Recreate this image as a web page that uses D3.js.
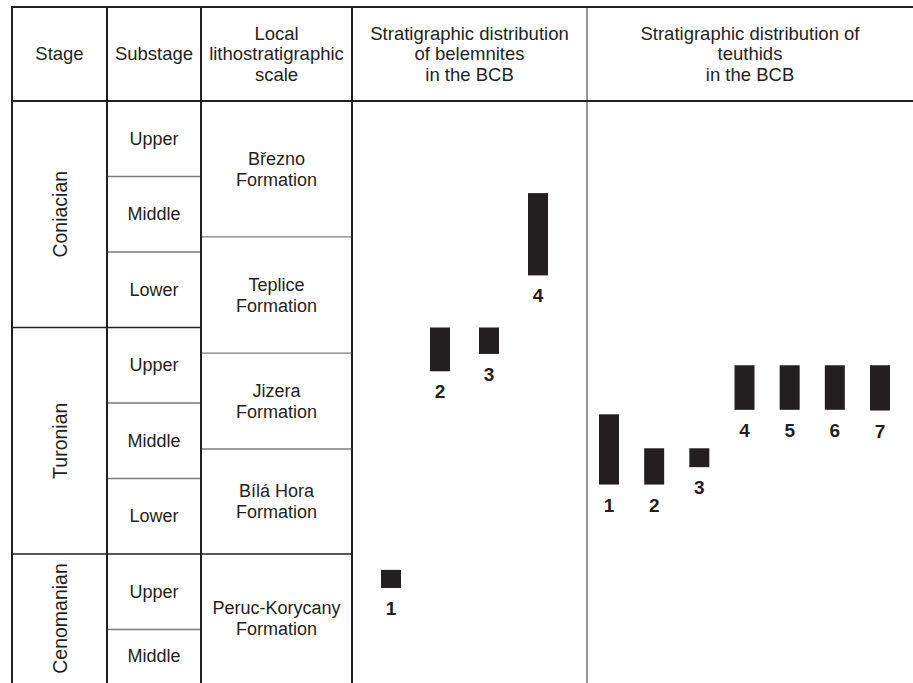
<!DOCTYPE html>
<html>
<head>
<meta charset="utf-8">
<script src="https://cdn.jsdelivr.net/npm/d3@7"></script>
<style>
  html, body { margin: 0; padding: 0; background: #fff; }
  svg { display: block; }
  text { font-family: "Liberation Sans", Arial, Helvetica, sans-serif; fill: #231f20; }
</style>
</head>
<body>
<script>
// Stratigraphic levels are counted in substage units, from the base of the
// Middle Cenomanian (0) up to the top of the Upper Coniacian (8).

// Column headings
const headings = [
  ["Stage"],
  ["Substage"],
  ["Local", "lithostratigraphic", "scale"],
  ["Stratigraphic distribution", "of belemnites", "in the BCB"],
  ["Stratigraphic distribution of", "teuthids", "in the BCB"]
];

// Stages
const stageNames = ["Coniacian", "Turonian", "Cenomanian"];
const stageTops  = [8, 5, 2];
const stageBases = [5, 2, 0];

// Substages
const substageNames = ["Upper", "Middle", "Lower", "Upper", "Middle", "Lower", "Upper", "Middle"];
const substageTops  = [8, 7, 6, 5, 4, 3, 2, 1];
const substageBases = [7, 6, 5, 4, 3, 2, 1, 0];

// Local lithostratigraphic units
const formationNames = [
  ["Březno", "Formation"],
  ["Teplice", "Formation"],
  ["Jizera", "Formation"],
  ["Bílá Hora", "Formation"],
  ["Peruc-Korycany", "Formation"]
];
const formationTops  = [8, 6.2, 4.66, 3.39, 2];
const formationBases = [6.2, 4.66, 3.39, 2, 0];

// Belemnite ranges
const belemniteIds    = ["1", "2", "3", "4"];
const belemniteBases  = [1.55, 4.42, 4.65, 5.69];
const belemniteTops   = [1.79, 5.0, 5.0, 6.78];

// Teuthid ranges
const teuthidIds   = ["1", "2", "3", "4", "5", "6", "7"];
const teuthidBases = [2.92, 2.92, 3.15, 3.91, 3.91, 3.91, 3.9];
const teuthidTops  = [3.85, 3.4, 3.4, 4.5, 4.5, 4.5, 4.5];

// ---------------------------------------------------------------------------
const W = 913, H = 683;
const dark = "#231f20", grey = "#7d7b7c";
const tableTop = 7, headBottom = 101;
const colX = [12, 107, 201, 352, 587, 913];

const svg = d3.select("body").append("svg")
  .attr("width", W).attr("height", H)
  .attr("viewBox", `0 0 ${W} ${H}`);

const y = d3.scaleLinear().domain([0, 8]).range([705, headBottom]);

// centre of a box, limited to the visible part of the page
const visMid = (top, base) => (y(top) + Math.min(y(base), H)) / 2;

// multi-line centred text
function multiline(g, lines, cx, cy, size, lh) {
  const t = g.append("text")
    .attr("text-anchor", "middle")
    .attr("font-size", size);
  lines.forEach((s, i) => {
    t.append("tspan")
      .attr("x", cx)
      .attr("y", cy + (i - (lines.length - 1) / 2) * lh + size * 0.345)
      .text(s);
  });
  return t;
}

// ---- headings
const head = svg.append("g");
headings.forEach((lines, i) => {
  const cx = (colX[i] + colX[i + 1]) / 2;
  multiline(head, lines, cx, (tableTop + headBottom) / 2, 18.5, 20.5);
});

// ---- stage column (rotated names)
const stageG = svg.append("g");
stageNames.forEach((n, i) => {
  const cx = (colX[0] + colX[1]) / 2 + 1;
  const cy = visMid(stageTops[i], stageBases[i]);
  stageG.append("text")
    .attr("transform", `translate(${cx},${cy}) rotate(-90)`)
    .attr("text-anchor", "middle")
    .attr("dy", "0.35em")
    .attr("font-size", 19.5)
    .text(n);
});

// ---- substage column
const subG = svg.append("g");
substageNames.forEach((n, i) => {
  const cx = (colX[1] + colX[2]) / 2;
  const cy = visMid(substageTops[i], substageBases[i]);
  multiline(subG, [n], cx, cy, 18, 20);
});

// ---- formations
const fmG = svg.append("g");
formationNames.forEach((lines, i) => {
  const cx = (colX[2] + colX[3]) / 2;
  const cy = visMid(formationTops[i], formationBases[i]);
  multiline(fmG, lines, cx, cy, 18, 21);
});

// ---- grid lines
const grid = svg.append("g").attr("fill", "none");
const stageBoundaries = stageTops.slice(1);

// substage boundaries inside a stage
substageTops.filter(l => l < 8 && !stageBoundaries.includes(l)).forEach(l => {
  grid.append("line")
    .attr("x1", colX[1]).attr("x2", colX[2])
    .attr("y1", y(l)).attr("y2", y(l))
    .attr("stroke", grey).attr("stroke-width", 1.4);
});
// formation boundaries
formationTops.filter(l => l < 8).forEach(l => {
  const major = stageBoundaries.includes(l);
  grid.append("line")
    .attr("x1", colX[2]).attr("x2", colX[3])
    .attr("y1", y(l)).attr("y2", y(l))
    .attr("stroke", major ? dark : grey).attr("stroke-width", major ? 1.6 : 1.4);
});
// stage boundaries
stageBoundaries.forEach(l => {
  grid.append("line")
    .attr("x1", colX[0]).attr("x2", colX[2])
    .attr("y1", y(l)).attr("y2", y(l))
    .attr("stroke", dark).attr("stroke-width", 1.6);
});
// column separators
colX.slice(0, 4).forEach(x => {
  grid.append("line")
    .attr("x1", x).attr("x2", x)
    .attr("y1", tableTop - 1).attr("y2", H)
    .attr("stroke", dark).attr("stroke-width", 2);
});
grid.append("line")
  .attr("x1", colX[4]).attr("x2", colX[4])
  .attr("y1", tableTop).attr("y2", H)
  .attr("stroke", grey).attr("stroke-width", 1.6);
// top border and heading rule
[tableTop, headBottom].forEach(yy => {
  grid.append("line")
    .attr("x1", colX[0] - 1).attr("x2", W)
    .attr("y1", yy).attr("y2", yy)
    .attr("stroke", dark).attr("stroke-width", 2);
});

// ---- range bars
const barW = 20;
function rangeBars(ids, bases, tops, x0, x1) {
  const x = d3.scalePoint().domain(ids).range([x0, x1]);
  const data = ids.map((id, i) => ({ id, base: bases[i], top: tops[i] }));
  const g = svg.append("g");
  g.selectAll("rect").data(data).join("rect")
    .attr("x", d => x(d.id) - barW / 2)
    .attr("width", barW)
    .attr("y", d => y(d.top))
    .attr("height", d => y(d.base) - y(d.top))
    .attr("fill", dark);
  g.selectAll("text").data(data).join("text")
    .attr("x", d => x(d.id))
    .attr("y", d => y(d.base) + 27)
    .attr("text-anchor", "middle")
    .attr("font-size", 19)
    .attr("font-weight", "bold")
    .text(d => d.id);
}
rangeBars(belemniteIds, belemniteBases, belemniteTops, 391, 538);
rangeBars(teuthidIds, teuthidBases, teuthidTops, 609, 880);
</script>
</body>
</html>
